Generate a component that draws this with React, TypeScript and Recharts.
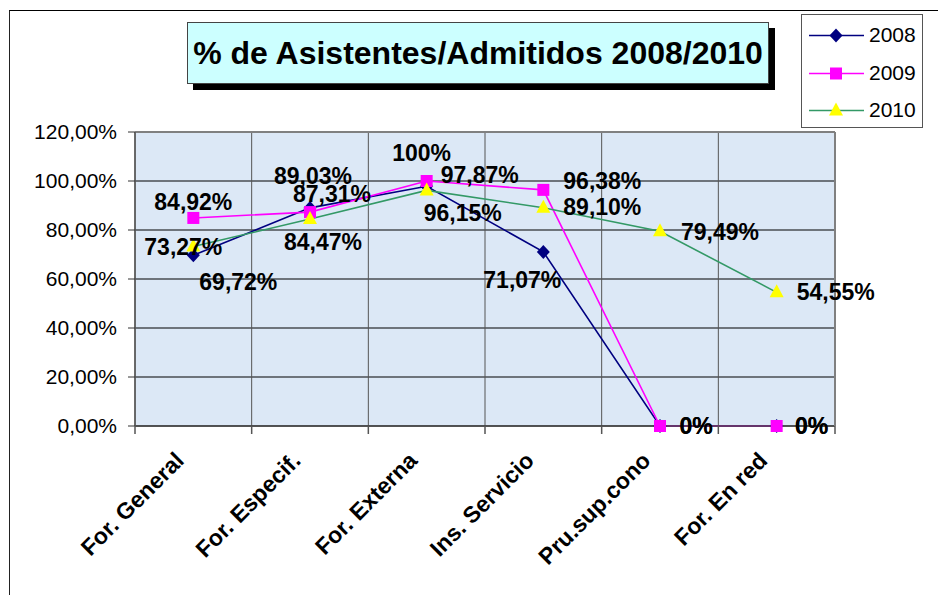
import React from 'react';
import { LineChart, Line, XAxis, YAxis, CartesianGrid, ReferenceLine, LabelList } from 'recharts';

const categories = ['For. General', 'For. Especif.', 'For. Externa', 'Ins. Servicio', 'Pru.sup.cono', 'For. En red'];
const values2008 = [69.72, 89.03, 97.87, 71.07, 0, 0];
const values2009 = [84.92, 87.31, 100, 96.38, 0, 0];
const values2010 = [73.27, 84.47, 96.15, 89.1, 79.49, 54.55];
const yTicks = [0, 20, 40, 60, 80, 100, 120];

// label placement (dx, dy from the point) per series
const labelOffsets2008 = [[45, 27], [3, -32], [53, -11], [-21, 28], [36, 0], [35, 0]];
const labelOffsets2009 = [[0, -16], [22, -18], [-5, -28], [59, -9], [36, 0], [35, 0]];
const labelOffsets2010 = [[-10, 1], [13, 23], [36, 23], [59, -1], [60, 1], [59, 0]];

const data = categories.map((name, i) => ({
  name,
  y2008: values2008[i],
  y2009: values2009[i],
  y2010: values2010[i],
}));

const W = 938;
const H = 595;
const PLOT_LEFT = 135;
const PLOT_RIGHT = 835;
const PLOT_TOP = 132;
const PLOT_BOTTOM = 426;
const BAND = (PLOT_RIGHT - PLOT_LEFT) / categories.length;
const FONT = '"Liberation Sans", Arial, sans-serif';

const fmtPct = (v: number) => (Number.isInteger(v) ? `${v}%` : `${v.toFixed(2).replace('.', ',')}%`);
const fmtTick = (v: number) => `${v.toFixed(2).replace('.', ',')}%`;

const Diamond = ({ cx, cy }: any) => (
  <polygon points={`${cx},${cy - 7} ${cx + 6.5},${cy} ${cx},${cy + 7} ${cx - 6.5},${cy}`} fill="#000080" />
);
const Square = ({ cx, cy }: any) => <rect x={cx - 6} y={cy - 6} width={12} height={12} fill="#ff00ff" />;
const Triangle = ({ cx, cy }: any) => (
  <polygon points={`${cx},${cy - 8} ${cx + 7},${cy + 5} ${cx - 7},${cy + 5}`} fill="#ffff00" />
);

const series = [
  { key: 'y2008', name: '2008', color: '#000080', Marker: Diamond, offsets: labelOffsets2008 },
  { key: 'y2009', name: '2009', color: '#ff00ff', Marker: Square, offsets: labelOffsets2009 },
  { key: 'y2010', name: '2010', color: '#339966', Marker: Triangle, offsets: labelOffsets2010 },
];

const makeLabel = (offsets: number[][]) => (props: any) => {
  const { x, y, value, index } = props;
  const [dx, dy] = offsets[index] || [0, 0];
  return (
    <text
      x={x + dx}
      y={y + dy}
      textAnchor="middle"
      dominantBaseline="central"
      fontFamily={FONT}
      fontSize={23}
      fontWeight="bold"
      fill="#000"
    >
      {fmtPct(value)}
    </text>
  );
};

const CategoryTick = (props: any) => {
  const { x, payload, index } = props;
  const tx = x - 8;
  const ty = PLOT_BOTTOM + 36;
  return (
    <g>
      <line x1={x - BAND / 2} y1={PLOT_BOTTOM} x2={x - BAND / 2} y2={PLOT_BOTTOM + 8} stroke="#555" strokeWidth={1.5} />
      {index === categories.length - 1 && (
        <line x1={x + BAND / 2} y1={PLOT_BOTTOM} x2={x + BAND / 2} y2={PLOT_BOTTOM + 8} stroke="#555" strokeWidth={1.5} />
      )}
      <text
        x={tx}
        y={ty}
        transform={`rotate(-45 ${tx} ${ty})`}
        textAnchor="end"
        fontFamily={FONT}
        fontSize={23}
        fontWeight="bold"
        fill="#000"
      >
        {payload.value}
      </text>
    </g>
  );
};

const bandEdges = ({ offset }: any) =>
  categories.map((_, i) => offset.left + (i * offset.width) / categories.length);

export default function App() {
  return (
    <div style={{ position: 'absolute', left: 0, top: 0, width: W, height: H, overflow: 'hidden', background: '#fff', fontFamily: FONT }}>
      <div style={{ position: 'absolute', left: 9, top: 10, width: W, height: H, borderLeft: '1.5px solid #222', borderTop: '1.5px solid #000' }} />

      <LineChart
        width={W}
        height={H}
        data={data}
        margin={{ top: PLOT_TOP, right: W - PLOT_RIGHT - 1, bottom: 0, left: PLOT_LEFT - 100 }}
        style={{ position: 'absolute', left: 0, top: 0 }}
      >
        <CartesianGrid fill="#dce8f6" stroke="#000" vertical={false} />
        <CartesianGrid stroke="#555" horizontal={false} verticalCoordinatesGenerator={bandEdges} />
        <XAxis
          dataKey="name"
          interval={0}
          height={H - PLOT_BOTTOM}
          padding={{ left: BAND / 2, right: BAND / 2 }}
          tickLine={false}
          axisLine={{ stroke: '#444', strokeWidth: 1.5 }}
          tick={<CategoryTick />}
        />
        <YAxis
          domain={[0, 120]}
          ticks={yTicks}
          width={100}
          tickFormatter={fmtTick}
          tickSize={7}
          tickMargin={11}
          tickLine={{ stroke: '#333' }}
          axisLine={{ stroke: '#555', strokeWidth: 1.5 }}
          tick={{ fill: '#000', fontSize: 21, fontFamily: FONT }}
        />
        <YAxis
          yAxisId="right"
          orientation="right"
          domain={[0, 120]}
          width={1}
          tick={false}
          tickLine={false}
          axisLine={{ stroke: '#808080', strokeWidth: 2 }}
        />
        <ReferenceLine y={120} stroke="#808080" strokeWidth={2} />
        {series.map((s) => (
          <Line
            key={s.key}
            type="linear"
            dataKey={s.key}
            stroke={s.color}
            strokeWidth={1.6}
            dot={(p: any) => <s.Marker key={`${s.key}-${p.index}`} cx={p.cx} cy={p.cy} />}
            activeDot={false}
            isAnimationActive={false}
          />
        ))}
        {series.map((s) => (
          <Line
            key={`${s.key}-labels`}
            dataKey={s.key}
            stroke="none"
            dot={false}
            activeDot={false}
            legendType="none"
            isAnimationActive={false}
          >
            <LabelList dataKey={s.key} content={makeLabel(s.offsets)} />
          </Line>
        ))}
      </LineChart>

      <div
        style={{
          position: 'absolute',
          left: 187,
          top: 22,
          width: 580,
          height: 60,
          background: '#ccffff',
          border: '1px solid #444',
          boxShadow: '6px 6px 0 #000',
          display: 'flex',
          alignItems: 'center',
          justifyContent: 'center',
          fontSize: 32,
          fontWeight: 'bold',
          color: '#000',
          whiteSpace: 'nowrap',
        }}
      >
        % de Asistentes/Admitidos 2008/2010
      </div>

      <div
        style={{
          position: 'absolute',
          left: 801,
          top: 14,
          width: 120,
          height: 112,
          background: '#fff',
          border: '1px solid #555',
        }}
      >
        {series.map((s, i) => (
          <div key={s.key} style={{ position: 'absolute', left: 0, top: 2 + i * 37.5, height: 37, width: 120 }}>
            <svg width={62} height={37} style={{ position: 'absolute', left: 6, top: 0 }}>
              <line x1={1} y1={18.5} x2={56} y2={18.5} stroke={s.color} strokeWidth={1.6} />
              <s.Marker cx={28} cy={18.5} />
            </svg>
            <span style={{ position: 'absolute', left: 67, top: 6, fontSize: 21, lineHeight: '24px', color: '#000' }}>{s.name}</span>
          </div>
        ))}
      </div>
    </div>
  );
}
